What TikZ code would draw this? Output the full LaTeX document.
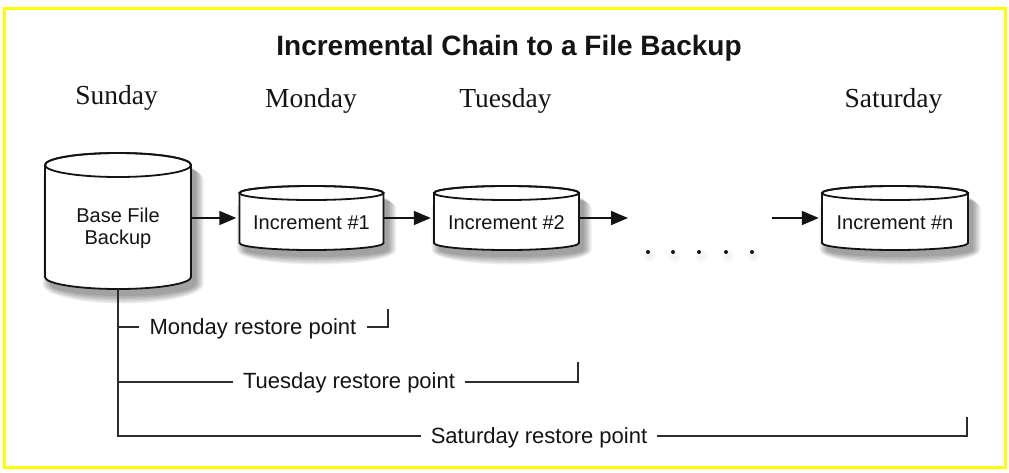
\documentclass[tikz,border=0pt]{standalone}
\usepackage{fontspec}
\setmainfont{Liberation Serif}
\setsansfont{Liberation Sans}
\usetikzlibrary{arrows.meta,calc}
\definecolor{ybord}{RGB}{255,255,0}
\definecolor{ink}{RGB}{20,20,20}
\newcommand{\cylp}[6]{%
  \path[#1] ({#2-(#5)},{-(#3)}) -- ({#2-(#5)},{-(#4)})
    arc[start angle=180,end angle=360,x radius={#5},y radius={#6}]
    -- ({#2+(#5)},{-(#3)})
    arc[start angle=0,end angle=180,x radius={#5},y radius={#6}] -- cycle;}
\newcommand{\drawcyl}[5]{%
  \foreach \d in {0,1.5,3,4.5,6,7.5}{\cylp{fill=black,opacity=0.07,shift={(5,-7)}}{#1}{#2+\d}{#3}{#4+\d}{#5+\d}}
  \cylp{fill=white,draw=ink,line width=1.8pt}{#1}{#2}{#3}{#4}{#5}
  \path[draw=ink,line width=1.8pt] (#1,{-(#2)}) ellipse[x radius={#4},y radius={#5}];}
\tikzset{
  hold/.style={draw=none,inner sep=0pt,rectangle},
  cyltext/.style={font=\sffamily\fontsize{20}{22}\selectfont,text=ink,align=center,inner sep=0pt},
  daytext/.style={font=\rmfamily\fontsize{27.5}{30}\selectfont,text=ink,anchor=base,inner sep=0pt},
  rtext/.style={font=\sffamily\fontsize{22}{24}\selectfont,text=ink,anchor=base,inner xsep=10pt,inner ysep=0pt},
  rline/.style={draw=ink!90,line width=1.6pt},
  arr/.style={draw=ink,line width=1.8pt,-{Triangle[length=17pt,width=14pt]},shorten >=3pt},
}
\begin{document}
\begin{tikzpicture}[x=1pt,y=1pt]
\useasboundingbox (0,0) rectangle (1009,-472);
\fill[white] (0,0) rectangle (1009,-472);
\draw[ybord,line width=3pt] (4,-8.5) rectangle (1005,-467);

\node[font=\sffamily\bfseries\fontsize{28}{30}\selectfont,text=ink,anchor=base,inner sep=0pt] (title) at (509,-55) {Incremental Chain to a File Backup};

\node[daytext] (sun) at (116.5,-104) {Sunday};
\node[daytext] (mon) at (311,-107) {Monday};
\node[daytext] (tue) at (505.5,-107) {Tuesday};
\node[daytext] (sat) at (893.5,-107) {Saturday};

\drawcyl{118}{165}{277}{73}{12}
\drawcyl{311.5}{193}{243}{72}{7}
\drawcyl{506.5}{193}{243}{72.5}{7}
\drawcyl{895}{193}{243}{73}{7}

\node[hold,minimum width=146pt,minimum height=136pt] (base) at (118,-221) {};
\node[hold,minimum width=144pt,minimum height=64pt] (inc1) at (311.5,-218) {};
\node[hold,minimum width=145pt,minimum height=64pt] (inc2) at (506.5,-218) {};
\node[hold,minimum width=146pt,minimum height=64pt] (incn) at (895,-218) {};

\node[cyltext] (baseL) at (118,-228.5) {Base File\\Backup};
\node[cyltext] (inc1L) at (311.5,-223) {Increment \#1};
\node[cyltext] (inc2L) at (506.5,-223) {Increment \#2};
\node[cyltext] (incnL) at (895,-223) {Increment \#n};

\draw[arr] (base.east |- inc1.west) -- (inc1.west);
\draw[arr] (inc1.east) -- (inc2.west);
\coordinate (d1) at (631,-218);
\draw[arr] (inc2.east) -- (d1);
\coordinate (d2) at (772,-218);
\draw[arr] (d2) -- (incn.west);

\foreach \x in {648,673,699,726,752} {
  \fill[black,opacity=0.025] (\x+2,-256) circle (6);
  \fill[black,opacity=0.025] (\x+2,-256) circle (4);
  \fill[ink] (\x,-252) circle (2);
}

\node[rtext] (monR) at (253,-334) {Monday restore point};
\node[rtext] (tueR) at (349,-388) {Tuesday restore point};
\node[rtext] (satR) at (539,-443) {Saturday restore point};

\coordinate (t3) at (118,-436);
\coordinate (t1) at (118,-327);
\coordinate (t2) at (118,-382);
\coordinate (m1) at (388,-327);
\coordinate (m2) at (388,-309);
\coordinate (u1) at (578,-382);
\coordinate (u2) at (578,-362);
\coordinate (s1) at (967,-436);
\coordinate (s2) at (967,-417);

\draw[rline] (base.south) -- (t3) -- (satR.west |- t3);
\draw[rline] (t1) -- (monR.west |- t1);
\draw[rline] (t2) -- (tueR.west |- t2);
\draw[rline] (monR.east |- t1) -- (m1) -- (m2);
\draw[rline] (tueR.east |- t2) -- (u1) -- (u2);
\draw[rline] (satR.east |- t3) -- (s1) -- (s2);
\end{tikzpicture}
\end{document}
